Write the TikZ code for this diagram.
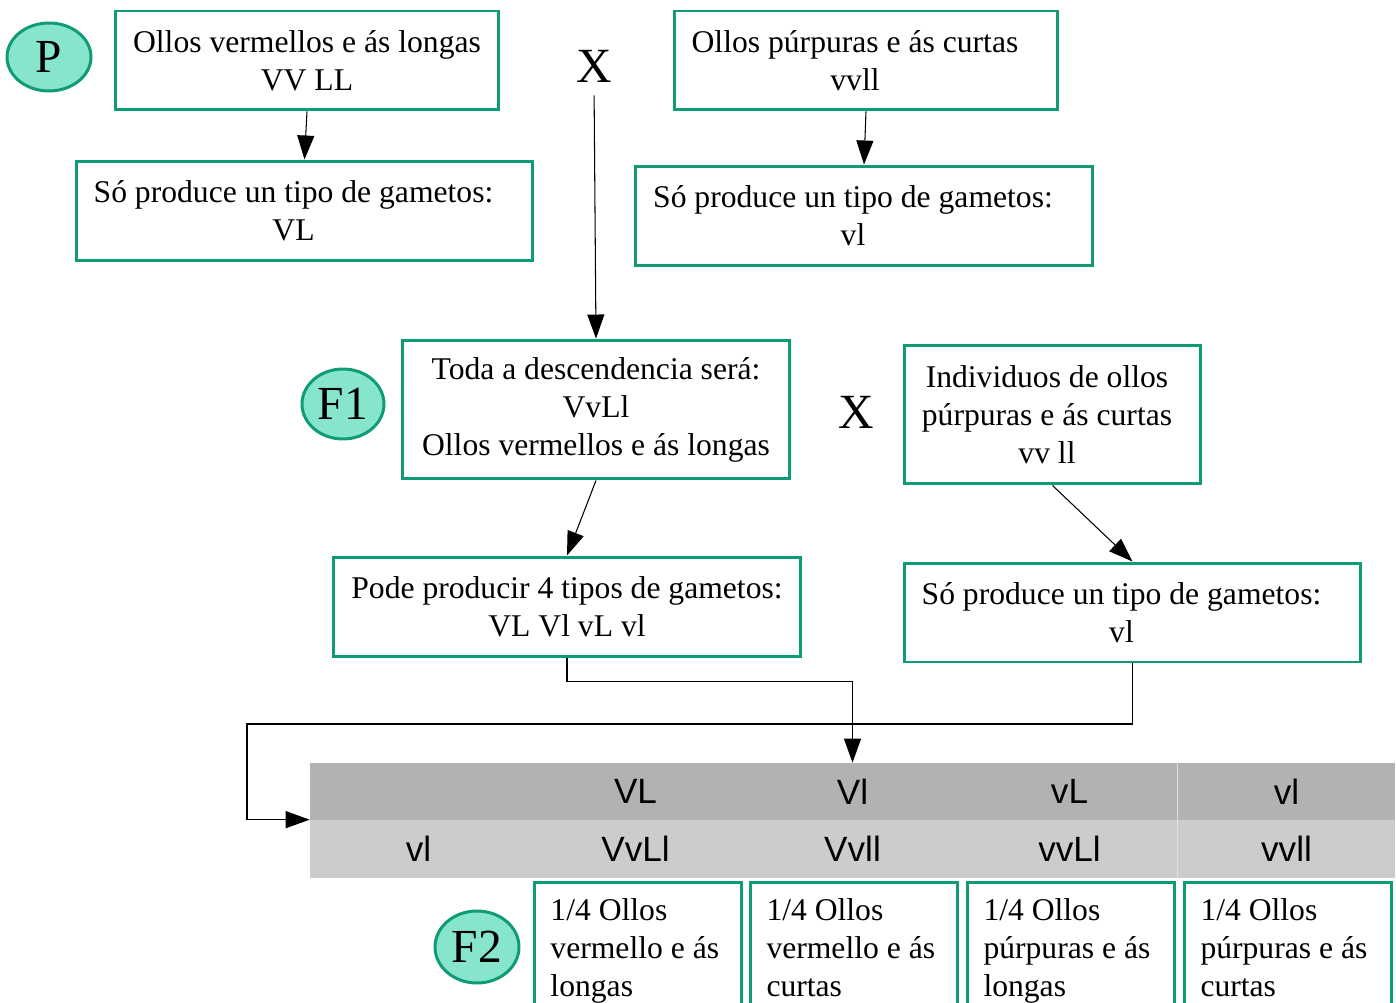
\documentclass[tikz,border=0pt]{standalone}
\usepackage{fontspec}
\setmainfont{Liberation Serif}
\newfontfamily\tabfont{Liberation Sans}
\usetikzlibrary{shapes.geometric, arrows.meta}

\definecolor{boxgreen}{HTML}{0F9B76}
\definecolor{gencirc}{HTML}{88E5CD}

\tikzset{
  genbox/.style={draw=boxgreen, line width=1.7pt, align=center, inner sep=0pt,
    font=\fontsize{18}{21.6}\selectfont},
  gen/.style={ellipse, draw=boxgreen, fill=gencirc, line width=1.7pt, inner sep=0pt,
    font=\fontsize{27}{30}\selectfont},
  cross/.style={inner sep=0pt, font=\fontsize{28}{30}\selectfont},
  arr/.style={-{Triangle[length=0.48cm, width=0.34cm]}, line width=0.6pt},
  hcell/.style={fill=black!30, minimum width=4.34cm, minimum height=1.14cm, inner sep=0pt,
    font=\tabfont\fontsize{20}{24}\selectfont},
  rcell/.style={hcell, fill=black!20, minimum height=1.16cm},
  f2box/.style={draw=boxgreen, line width=1.7pt, anchor=north west, align=flush left,
    text width=3.5cm, inner xsep=0.32cm, inner ysep=0.32cm,
    font=\fontsize{18}{21.6}\selectfont}
}

\begin{document}
\begin{tikzpicture}[x=0.02cm, y=-0.02cm]
    \useasboundingbox (0,0) rectangle (1396,1003);
    \clip (0,0) rectangle (1396,1003);

    % parents
    \node[gen, minimum width=1.68cm, minimum height=1.36cm] (genp) at (49,57) {P};
    \node[genbox, minimum width=7.68cm, minimum height=1.98cm] (pvv) at (307,60.5)
        {Ollos vermellos e ás longas\\ VV LL};
    \node[genbox, minimum width=9.14cm, minimum height=2cm] (pgam) at (304.5,211)
        {Só produce un tipo de gametos:\kern0.44cm\\ VL\kern0.44cm};
    \node[cross] (cross1) at (594,66) {X};
    \node[genbox, minimum width=7.68cm, minimum height=1.98cm] (bvv) at (866,60.5)
        {Ollos púrpuras e ás curtas\kern0.44cm\\ vvll\kern0.44cm};
    \node[genbox, minimum width=9.16cm, minimum height=2cm] (bgam) at (864,216)
        {Só produce un tipo de gametos:\kern0.44cm\\ vl\kern0.44cm};

    \draw[arr] (pvv.south) -- (pgam.north);
    \draw[arr] (bvv.south) -- (bgam.north);

    % F1 and test cross
    \node[gen, minimum width=1.64cm, minimum height=1.4cm] (genf1) at (343,404) {F1};
    \node[genbox, minimum width=7.76cm, minimum height=2.78cm] (f1desc) at (596,409.5)
        {Toda a descendencia será:\\ VvLl\\ Ollos vermellos e ás longas};
    \node[cross] (cross2) at (856,412) {X};
    \node[genbox, minimum width=5.94cm, minimum height=2.78cm] (brec) at (1052.5,414.5)
        {Individuos de ollos\kern0.22cm\\ púrpuras e ás curtas\kern0.22cm\\ vv ll\kern0.22cm};
    \node[genbox, minimum width=9.36cm, minimum height=2cm] (f1gam) at (567,607)
        {Pode producir 4 tipos de gametos:\\ VL Vl vL vl};
    \node[genbox, minimum width=9.14cm, minimum height=1.98cm] (bgam2) at (1132.5,612.5)
        {Só produce un tipo de gametos:\kern0.44cm\\ vl\kern0.44cm};

    \draw[arr, shorten <=0.26cm] (cross1.south) -- (f1desc.north);
    \draw[arr] (f1desc.south) -- (f1gam.north);
    \draw[arr] (brec.south) -- (bgam2.north);

    % Punnett table
    \foreach \hd/\rw [count=\i] in {/vl, VL/VvLl, Vl/Vvll, vL/vvLl, vl/vvll} {
        \node[hcell] (hd\i) at ({201.5+217*\i},791.5) {\hd};
        \node[rcell] (rw\i) at ({201.5+217*\i},849) {\rw};
    }
    \draw[white!75!gray, line width=0.5pt] (hd5.north west) -- (rw5.south west);

    \coordinate (bend) at (247,724);
    \draw[arr] (f1gam.south) -- ++(0,23) -| (hd3.north);
    \draw[arr] (bgam2.south) |- (bend) |- (rw1.north west);

    % F2
    \node[gen, minimum width=1.68cm, minimum height=1.44cm] (genf2) at (477,947) {F2};
    \node[f2box] (f2a) at (533,881) {1/4 Ollos\\ vermello e ás\\ longas};
    \node[f2box] (f2b) at (749,881) {1/4 Ollos\\ vermello e ás\\ curtas};
    \node[f2box] (f2c) at (966,881) {1/4 Ollos\\ púrpuras e ás\\ longas};
    \node[f2box] (f2d) at (1183,881) {1/4 Ollos\\ púrpuras e ás\\ curtas};
\end{tikzpicture}
\end{document}
